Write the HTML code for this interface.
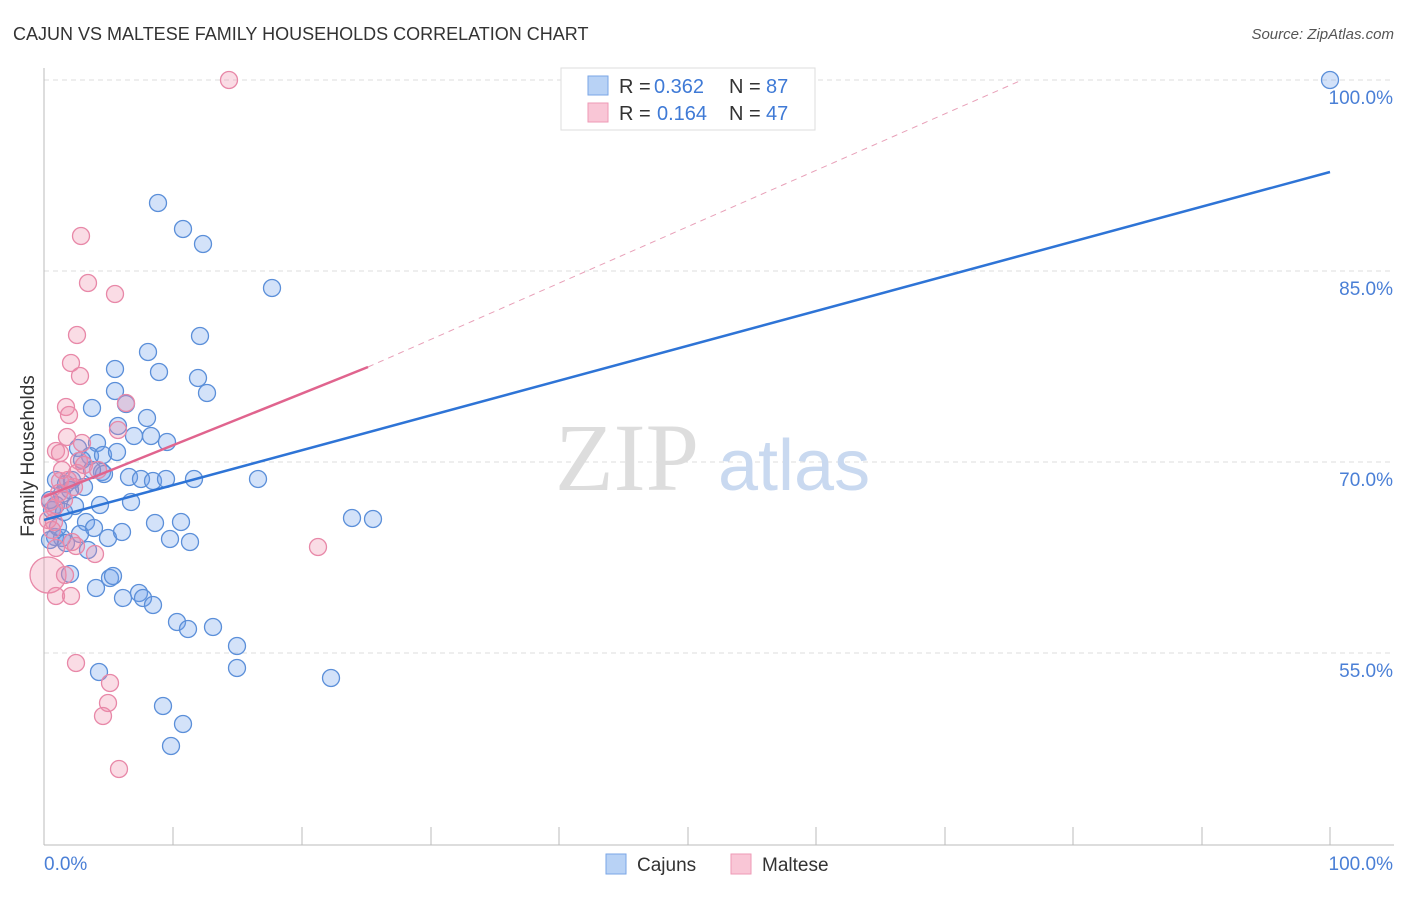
<!DOCTYPE html>
<html><head><meta charset="utf-8"><style>
body{margin:0;background:#fff;width:1406px;height:892px;overflow:hidden;font-family:"Liberation Sans",sans-serif}
</style></head><body>
<svg width="1406" height="892" xmlns="http://www.w3.org/2000/svg" font-family="Liberation Sans, sans-serif">
<text x="13" y="40" font-size="18" fill="#333">CAJUN VS MALTESE FAMILY HOUSEHOLDS CORRELATION CHART</text>
<text x="1394" y="39" font-size="15" fill="#555" text-anchor="end" font-style="italic">Source: ZipAtlas.com</text>
<g stroke="#ddd" stroke-dasharray="5,4" stroke-width="1">
<line x1="44" y1="80" x2="1394" y2="80"/><line x1="44" y1="271" x2="1394" y2="271"/><line x1="44" y1="462" x2="1394" y2="462"/><line x1="44" y1="653" x2="1394" y2="653"/>
</g>
<g font-size="19" fill="#4a7fd6" text-anchor="end">
<text x="1393" y="104">100.0%</text><text x="1393" y="295">85.0%</text><text x="1393" y="486">70.0%</text><text x="1393" y="677">55.0%</text>
</g>
<line x1="44" y1="68" x2="44" y2="845" stroke="#bbb"/>
<line x1="44" y1="845" x2="1394" y2="845" stroke="#bbb"/>
<g stroke="#bbb">
<line x1="173" y1="827" x2="173" y2="845"/><line x1="302" y1="827" x2="302" y2="845"/><line x1="431" y1="827" x2="431" y2="845"/><line x1="559" y1="827" x2="559" y2="845"/><line x1="688" y1="827" x2="688" y2="845"/><line x1="816" y1="827" x2="816" y2="845"/><line x1="945" y1="827" x2="945" y2="845"/><line x1="1073" y1="827" x2="1073" y2="845"/><line x1="1202" y1="827" x2="1202" y2="845"/><line x1="1330" y1="827" x2="1330" y2="845"/>
</g>
<text x="44" y="870" font-size="19" fill="#4a7fd6">0.0%</text>
<text x="1393" y="870" font-size="19" fill="#4a7fd6" text-anchor="end">100.0%</text>
<text transform="translate(34,456) rotate(-90)" font-size="19" fill="#333" text-anchor="middle">Family Households</text>
<text x="555" y="490" font-size="96" fill="#ddd" font-family="Liberation Serif, serif">ZIP</text>
<text x="718" y="490" font-size="72" fill="#c9d9f0">atlas</text>
<g fill="rgba(110,160,235,0.3)" stroke="#5b8fd9" stroke-width="1.3">
<circle cx="1330" cy="80" r="8.5"/><circle cx="158" cy="203" r="8.5"/><circle cx="183" cy="229" r="8.5"/><circle cx="203" cy="244" r="8.5"/><circle cx="272" cy="288" r="8.5"/><circle cx="200" cy="336" r="8.5"/><circle cx="148" cy="352" r="8.5"/><circle cx="115" cy="369" r="8.5"/><circle cx="159" cy="372" r="8.5"/><circle cx="198" cy="378" r="8.5"/><circle cx="207" cy="393" r="8.5"/><circle cx="115" cy="391" r="8.5"/><circle cx="92" cy="408" r="8.5"/><circle cx="126" cy="404" r="8.5"/><circle cx="147" cy="418" r="8.5"/><circle cx="118" cy="426" r="8.5"/><circle cx="134" cy="436" r="8.5"/><circle cx="151" cy="436" r="8.5"/><circle cx="167" cy="442" r="8.5"/><circle cx="97" cy="443" r="8.5"/><circle cx="78" cy="448" r="8.5"/><circle cx="90" cy="456" r="8.5"/><circle cx="103" cy="455" r="8.5"/><circle cx="117" cy="452" r="8.5"/><circle cx="82" cy="460" r="8.5"/><circle cx="102" cy="472" r="8.5"/><circle cx="104" cy="474" r="8.5"/><circle cx="129" cy="477" r="8.5"/><circle cx="141" cy="479" r="8.5"/><circle cx="153" cy="481" r="8.5"/><circle cx="166" cy="479" r="8.5"/><circle cx="194" cy="479" r="8.5"/><circle cx="258" cy="479" r="8.5"/><circle cx="56" cy="480" r="8.5"/><circle cx="66" cy="484" r="8.5"/><circle cx="72" cy="480" r="8.5"/><circle cx="84" cy="487" r="8.5"/><circle cx="62" cy="494" r="8.5"/><circle cx="70" cy="490" r="8.5"/><circle cx="56" cy="505" r="8.5"/><circle cx="100" cy="505" r="8.5"/><circle cx="131" cy="502" r="8.5"/><circle cx="86" cy="522" r="8.5"/><circle cx="155" cy="523" r="8.5"/><circle cx="181" cy="522" r="8.5"/><circle cx="352" cy="518" r="8.5"/><circle cx="373" cy="519" r="8.5"/><circle cx="94" cy="528" r="8.5"/><circle cx="52" cy="510" r="8.5"/><circle cx="55" cy="537" r="8.5"/><circle cx="62" cy="538" r="8.5"/><circle cx="80" cy="534" r="8.5"/><circle cx="108" cy="538" r="8.5"/><circle cx="122" cy="532" r="8.5"/><circle cx="170" cy="539" r="8.5"/><circle cx="190" cy="542" r="8.5"/><circle cx="66" cy="543" r="8.5"/><circle cx="88" cy="550" r="8.5"/><circle cx="70" cy="574" r="8.5"/><circle cx="110" cy="578" r="8.5"/><circle cx="113" cy="576" r="8.5"/><circle cx="96" cy="588" r="8.5"/><circle cx="123" cy="598" r="8.5"/><circle cx="139" cy="593" r="8.5"/><circle cx="143" cy="598" r="8.5"/><circle cx="153" cy="605" r="8.5"/><circle cx="177" cy="622" r="8.5"/><circle cx="188" cy="629" r="8.5"/><circle cx="213" cy="627" r="8.5"/><circle cx="237" cy="646" r="8.5"/><circle cx="237" cy="668" r="8.5"/><circle cx="99" cy="672" r="8.5"/><circle cx="331" cy="678" r="8.5"/><circle cx="163" cy="706" r="8.5"/><circle cx="183" cy="724" r="8.5"/><circle cx="171" cy="746" r="8.5"/><circle cx="50" cy="540" r="8.5"/><circle cx="58" cy="527" r="8.5"/><circle cx="64" cy="512" r="8.5"/><circle cx="75" cy="506" r="8.5"/><circle cx="50" cy="500" r="8.5"/><circle cx="92" cy="470" r="8.5"/>
</g>
<g fill="rgba(240,140,170,0.3)" stroke="#e888a8" stroke-width="1.3">
<circle cx="48" cy="575" r="18"/>
<circle cx="229" cy="80" r="8.5"/><circle cx="81" cy="236" r="8.5"/><circle cx="88" cy="283" r="8.5"/><circle cx="115" cy="294" r="8.5"/><circle cx="77" cy="335" r="8.5"/><circle cx="71" cy="363" r="8.5"/><circle cx="80" cy="376" r="8.5"/><circle cx="126" cy="403" r="8.5"/><circle cx="66" cy="407" r="8.5"/><circle cx="69" cy="415" r="8.5"/><circle cx="118" cy="430" r="8.5"/><circle cx="67" cy="437" r="8.5"/><circle cx="82" cy="443" r="8.5"/><circle cx="56" cy="451" r="8.5"/><circle cx="60" cy="453" r="8.5"/><circle cx="79" cy="461" r="8.5"/><circle cx="77" cy="473" r="8.5"/><circle cx="60" cy="481" r="8.5"/><circle cx="68" cy="480" r="8.5"/><circle cx="74" cy="487" r="8.5"/><circle cx="59" cy="493" r="8.5"/><circle cx="50" cy="502" r="8.5"/><circle cx="54" cy="508" r="8.5"/><circle cx="48" cy="520" r="8.5"/><circle cx="54" cy="522" r="8.5"/><circle cx="52" cy="530" r="8.5"/><circle cx="56" cy="548" r="8.5"/><circle cx="95" cy="554" r="8.5"/><circle cx="76" cy="546" r="8.5"/><circle cx="65" cy="575" r="8.5"/><circle cx="56" cy="596" r="8.5"/><circle cx="71" cy="596" r="8.5"/><circle cx="318" cy="547" r="8.5"/><circle cx="76" cy="663" r="8.5"/><circle cx="110" cy="683" r="8.5"/><circle cx="108" cy="703" r="8.5"/><circle cx="103" cy="716" r="8.5"/><circle cx="119" cy="769" r="8.5"/><circle cx="62" cy="470" r="8.5"/><circle cx="84" cy="465" r="8.5"/><circle cx="98" cy="470" r="8.5"/><circle cx="64" cy="500" r="8.5"/><circle cx="72" cy="542" r="8.5"/>
</g>
<line x1="368" y1="367" x2="1022" y2="80" stroke="#e8a0b8" stroke-width="1" stroke-dasharray="6,5"/>
<line x1="44" y1="497" x2="368" y2="367" stroke="#e0648e" stroke-width="2.5"/>
<line x1="44" y1="520" x2="1330" y2="172" stroke="#2e74d6" stroke-width="2.5"/>
<rect x="561" y="68" width="254" height="62" fill="#fff" stroke="#ddd"/>
<rect x="588" y="76" width="20" height="19" fill="#b8d2f5" stroke="#7aa6e6"/>
<rect x="588" y="103" width="20" height="19" fill="#f9c6d6" stroke="#ee9ab6"/>
<g font-size="20">
<text x="619" y="93" fill="#333">R = </text><text x="654" y="93" fill="#3f7ad6">0.362</text><text x="729" y="93" fill="#333">N = </text><text x="766" y="93" fill="#3f7ad6">87</text>
<text x="619" y="120" fill="#333">R = </text><text x="657" y="120" fill="#3f7ad6">0.164</text><text x="729" y="120" fill="#333">N = </text><text x="766" y="120" fill="#3f7ad6">47</text>
</g>
<rect x="606" y="854" width="20" height="20" fill="#b8d2f5" stroke="#7aa6e6"/>
<text x="637" y="871" font-size="19" fill="#333">Cajuns</text>
<rect x="731" y="854" width="20" height="20" fill="#f9c6d6" stroke="#ee9ab6"/>
<text x="762" y="871" font-size="19" fill="#333">Maltese</text>
</svg>
</body></html>
